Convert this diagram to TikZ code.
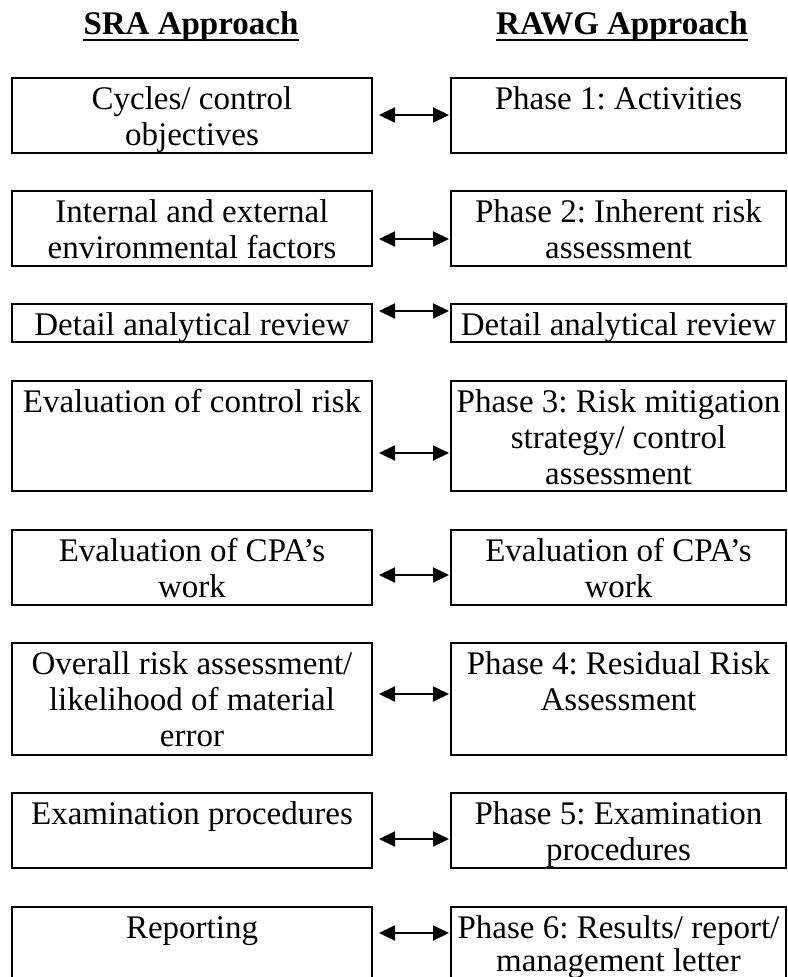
\documentclass[tikz,border=0pt]{standalone}
\usepackage{fontspec}
\setmainfont{Liberation Serif}
\usetikzlibrary{arrows.meta}
\newcommand{\firstln}{\rule{0pt}{30pt}}
\tikzset{
  box/.style={draw, line width=2pt, inner sep=0pt, outer sep=0pt, minimum width=#1},
  lbox/.style={box=360pt},
  rbox/.style={box=335pt},
  btext/.style={anchor=north, inner sep=0pt, align=center, font=\fontsize{33}{36}\selectfont\frenchspacing},
  ttl/.style={anchor=base, inner sep=0pt, font=\fontsize{33}{40}\selectfont\bfseries},
  arr/.style={{Triangle[length=16pt,width=15pt]}-{Triangle[length=16pt,width=15pt]}, line width=2pt, shorten <=7pt, shorten >=2pt}
}
\begin{document}
\begin{tikzpicture}[x=1pt,y=-1pt]
\useasboundingbox (0,0) rectangle (787,977);
% titles
\node[ttl] (t1) at (191,34) {SRA Approach};
\node[ttl] (t2) at (622,34) {RAWG Approach};
\draw[line width=2.5pt] ([yshift=-6pt]t1.base west) -- ([yshift=-6pt]t1.base east);
\draw[line width=2.5pt] ([yshift=-6pt]t2.base west) -- ([yshift=-6pt]t2.base east);
% boxes: left centre x = 192, right centre x = 618.5
\node[lbox, minimum height=75pt] (L1) at (192,115.5) {};
\node[rbox, minimum height=75pt] (R1) at (618.5,115.5) {};
\node[lbox, minimum height=75pt] (L2) at (192,228.5) {};
\node[rbox, minimum height=75pt] (R2) at (618.5,228.5) {};
\node[lbox, minimum height=38pt] (L3) at (192,323) {};
\node[rbox, minimum height=38pt] (R3) at (618.5,323) {};
\node[lbox, minimum height=110pt] (L4) at (192,436) {};
\node[rbox, minimum height=110pt] (R4) at (618.5,436) {};
\node[lbox, minimum height=75pt] (L5) at (192,567.5) {};
\node[rbox, minimum height=75pt] (R5) at (618.5,567.5) {};
\node[lbox, minimum height=112pt] (L6) at (192,699) {};
\node[rbox, minimum height=112pt] (R6) at (618.5,699) {};
\node[lbox, minimum height=75pt] (L7) at (192,830.5) {};
\node[rbox, minimum height=75pt] (R7) at (618.5,830.5) {};
\node[lbox, minimum height=80pt] (L8) at (192,947) {};
\node[rbox, minimum height=80pt] (R8) at (618.5,947) {};
% texts
\node[btext] (L1t) at ([yshift=-1pt]L1.north) {\firstln Cycles/ control\\objectives};
\node[btext] (R1t) at ([yshift=-1pt]R1.north) {\firstln Phase 1: Activities};
\node[btext] (L2t) at ([yshift=-1pt]L2.north) {\firstln Internal and external\\environmental factors};
\node[btext] (R2t) at ([yshift=-1pt]R2.north) {\firstln Phase 2: Inherent risk\\assessment};
\node[btext] (L3t) at ([yshift=-1pt]L3.north) {\firstln Detail analytical review};
\node[btext] (R3t) at ([yshift=-1pt]R3.north) {\firstln Detail analytical review};
\node[btext] (L4t) at ([yshift=-1pt]L4.north) {\firstln Evaluation of control risk};
\node[btext] (R4t) at ([yshift=-1pt]R4.north) {\firstln Phase 3: Risk mitigation\\strategy/ control\\assessment};
\node[btext] (L5t) at ([yshift=-1pt]L5.north) {\firstln Evaluation of CPA’s\\work};
\node[btext] (R5t) at ([yshift=-1pt]R5.north) {\firstln Evaluation of CPA’s\\work};
\node[btext] (L6t) at ([yshift=-1pt]L6.north) {\firstln Overall risk assessment/\\likelihood of material\\error};
\node[btext] (R6t) at ([yshift=-1pt]R6.north) {\firstln Phase 4: Residual Risk\\Assessment};
\node[btext] (L7t) at ([yshift=-1pt]L7.north) {\firstln Examination procedures};
\node[btext] (R7t) at ([yshift=-1pt]R7.north) {\firstln Phase 5: Examination\\procedures};
\node[btext] (L8t) at ([yshift=-1pt]L8.north) {\firstln Reporting};
\node[btext, font=\fontsize{33}{33}\selectfont\frenchspacing] (R8t) at ([yshift=-1pt]R8.north) {\firstln Phase 6: Results/ report/\\management letter};
% arrow levels
\coordinate (a1) at (0,115);
\coordinate (a2) at (0,239);
\coordinate (a3) at (0,311);
\coordinate (a4) at (0,453);
\coordinate (a5) at (0,575);
\coordinate (a6) at (0,694);
\coordinate (a7) at (0,839);
\coordinate (a8) at (0,933);
\foreach \i in {1,...,8} {
  \draw[arr] (L\i.east |- a\i) -- (R\i.west |- a\i);
}
\end{tikzpicture}
\end{document}
